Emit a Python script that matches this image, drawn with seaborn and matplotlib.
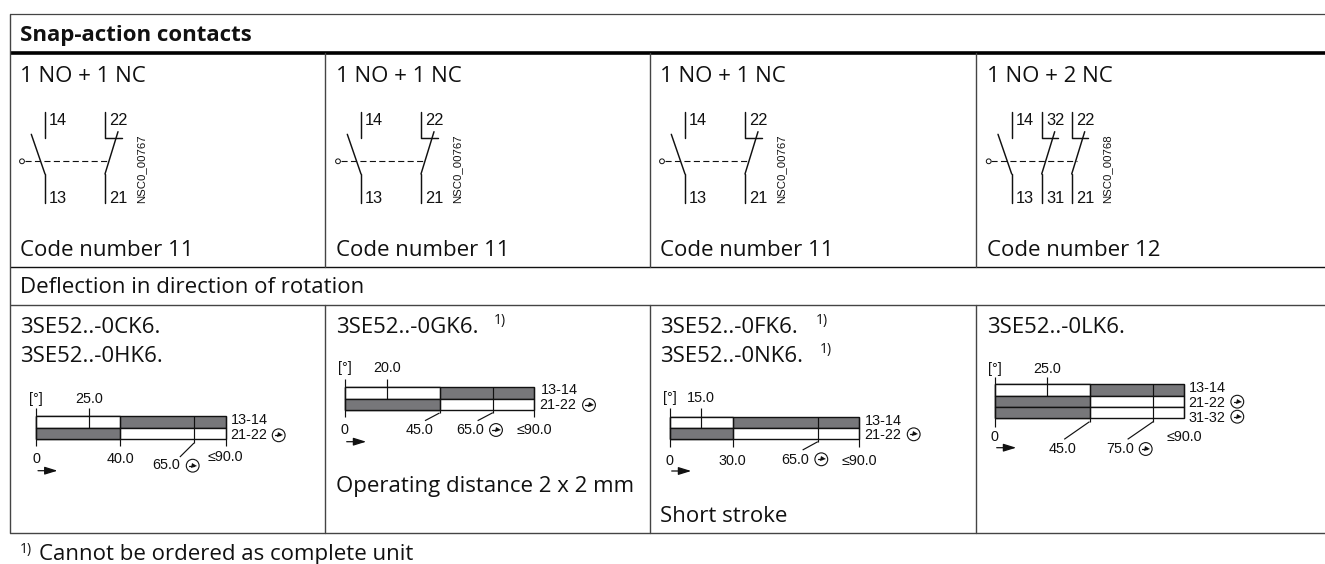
# Snap-action contact table: switching diagrams drawn as seaborn bars
import pandas as pd
import seaborn as sns
import matplotlib.pyplot as plt
from matplotlib.patches import Circle
from matplotlib.transforms import blended_transform_factory

sns.set_theme(style="white")
plt.rcParams['font.family'] = ['Open Sans', 'DejaVu Sans']
plt.rcParams['axes.unicode_minus'] = False

W, H = 1325, 564
BODY = 'Open Sans'
ARIAL = 'Liberation Sans'
INK = '#111111'
GRID = '#444444'
GREY = '#77777a'

# ---- data ----
header = "Snap-action contacts"
contact_titles = ["1 NO + 1 NC", "1 NO + 1 NC", "1 NO + 1 NC", "1 NO + 2 NC"]
code_numbers = ["Code number 11", "Code number 11", "Code number 11", "Code number 12"]
deflection = "Deflection in direction of rotation"
footnote = "Cannot be ordered as complete unit"
drawing_ids = ["NSC0_00767", "NSC0_00767", "NSC0_00767", "NSC0_00768"]
order_numbers = [["3SE52..-0CK6.", "3SE52..-0HK6."], ["3SE52..-0GK6."],
                 ["3SE52..-0FK6.", "3SE52..-0NK6."], ["3SE52..-0LK6."]]
order_marked = [[False, False], [True], [True, True], [False]]
notes = [None, "Operating distance 2 x 2 mm", "Short stroke", None]

contacts = [["13-14", "21-22"], ["13-14", "21-22"], ["13-14", "21-22"], ["13-14", "21-22", "31-32"]]
first_angle = [25.0, 20.0, 15.0, 25.0]      # top label, NO contact pre-travel mark
switch_angle = [40.0, 45.0, 30.0, 45.0]     # where shading changes
positive_label = [65.0, 65.0, 65.0, 75.0]   # printed positive opening angle
positive_drawn = [75.0, 70.3, 70.3, 75.2]   # where its mark really sits on the bar
max_angle = 90.0

# ---- layout, pixels ----
col_x = [9.5, 325, 650, 976]
text_x = [20, 336, 660, 987]
schem_x = [45, 361, 685, 1011.7]
schem_gap = [60, 60, 60, 30]
id_x = [141.3, 457.3, 781.3, 1107.7]
code_y = 255.7
order_y = [333, 361.7]
sup_x = [[], [494], [816, 820], []]
note_y = [0, 491.7, 521.7, 0]

dia_x0 = [36, 344.7, 669.7, 994.7]
dia_top = [416.3, 387.3, 416.7, 384.3]
row_h = 11.3
dia_w = 189.6
tick_top = [408, 379, 408.3, 376.7]
tick_bot = [446, 416.7, 446.7, 426.7]
top_base = [403, 372.3, 401.7, 373.3]
low_base = [463, 434, 465, 440.7]
switch_base = [463, 434, 465, 453.3]
switch_lab_x = [120, 420, 732, 1062.3]
switch_stop = [446, 413, 446.7, 421.7]
switch_tail = [None, (38.1, 420.7), None, (33.0, 439.3)]
pos_stop = [443, 412.7, 441.7, 421.7]
pos_tail = [(68.3, 457), (63.1, 420.7), (63.1, 450), (63.1, 439.3)]
pos_left = [152.7, 456.7, 781.7, 1106]
pos_base = [469, 434, 464, 453.3]
pos_circle = [(192.7, 465.7), (496, 430), (821.3, 459.3), (1145.7, 449)]
arrow_x = [38, 346.7, 671.7, 996.7]
arrow_y = [470.7, 441.7, 471, 447.7]
lab_left = [[230.7, 230], [540.7, 539.7], [865.3, 864], [1189, 1188.3, 1188.3]]
lab_base = [[424.3, 439.3], [394.3, 409.3], [425, 439.3], [391.7, 406.7, 421.7]]
circle_at = [[None, (278.7, 435.3)], [None, (589, 405)], [None, (913.7, 434.3)],
             [None, (1237.3, 401.7), (1237.3, 416.7)]]


def txt(ax, x, y, s, size=16, family=BODY, **kw):
    kw.setdefault('va', 'baseline')
    kw.setdefault('color', INK)
    ax.text(x, y, s, fontsize=size, family=family, **kw)


def opened(ax, cx, cy):
    """Ringed arrow symbol for positive opening"""
    ax.add_patch(Circle((cx, cy), 6.4, fill=False, ec=INK, lw=0.8))
    ax.plot([cx - 3.6, cx + 1], [cy, cy], color=INK, lw=0.9)
    ax.plot([cx + 1.5], [cy], marker='>', ms=3.6, color=INK, mew=0)


def draw_schematic(ax, x0, gap, labels, drawing_id, id_pos):
    n = len(labels)
    top, mid, knee, bottom, link = 111.7, 138, 174, 202.5, 161.3
    ends = x0 + gap * (n - 1) + 5
    ax.plot([x0 - 20.5, ends], [link, link], color=INK, lw=0.8, dashes=(5.5, 3))
    ax.add_patch(Circle((x0 - 23, link), 2.4, fc='white', ec=INK, lw=0.7, zorder=3))
    for i, (up, low) in enumerate(labels):
        x = x0 + gap * i
        ax.plot([x, x], [knee, bottom], color=INK, lw=1.05)
        if i == 0:
            ax.plot([x, x], [top, mid], color=INK, lw=1.05)
            ax.plot([x - 13.7, x], [134.3, knee], color=INK, lw=1.05)
        else:
            ax.plot([x, x, x + 16.7], [top, mid, mid], color=INK, lw=1.05)
            ax.plot([x, x + 13], [knee, 131.7], color=INK, lw=1.05)
        pad = 4.2
        txt(ax, x + pad, 125, up, 11.8, ARIAL)
        txt(ax, x + pad, 202.7, low, 11.8, ARIAL)
    txt(ax, id_pos, 203, drawing_id, 8.2, ARIAL, rotation=90, ha='center', va='bottom')


def draw_timing(fig, ax, k):
    names = contacts[k]
    n = len(names)
    top = dia_top[k]
    bar_ax = fig.add_axes([dia_x0[k] / W, 1 - (top + row_h * n) / H, dia_w / W, row_h * n / H])
    bar_ax.set_zorder(1)

    # full travel first, the part before the switching point on top of it
    full = pd.DataFrame({'contact': names, 'deg': [max_angle] * n})
    early = pd.DataFrame({'contact': names, 'deg': [switch_angle[k]] * n})
    full_cols = {c: (GREY if c == '13-14' else 'white') for c in names}
    early_cols = {c: ('white' if c == '13-14' else GREY) for c in names}
    for frame, cols in ((full, full_cols), (early, early_cols)):
        sns.barplot(data=frame, x='deg', y='contact', hue='contact', palette=cols, order=names,
                    saturation=1, width=1.0, edgecolor=INK, linewidth=1.0, legend=False,
                    errorbar=None, ax=bar_ax)
    for patch in bar_ax.patches:
        patch.set_clip_on(False)
    bar_ax.set_xlim(0, max_angle)
    bar_ax.set_ylim(n - 0.5, -0.5)
    bar_ax.axis('off')

    # marks: x in degrees through the bar axes, y in table pixels
    blend = blended_transform_factory(bar_ax.transData, ax.transData)

    def mark(xs, ys):
        ax.plot(xs, ys, color=INK, lw=0.85, transform=blend, solid_capstyle='butt')

    mark([0, 0], [tick_top[k], tick_bot[k]])
    mark([first_angle[k]] * 2, [tick_top[k], top + row_h])
    mark([max_angle] * 2, [top, tick_bot[k] if k < 3 else top + row_h * n])

    stop = switch_stop[k]
    mark([switch_angle[k]] * 2, [top, stop])
    if switch_tail[k]:
        mark([switch_angle[k], switch_tail[k][0]], [stop, switch_tail[k][1]])
    stop = pos_stop[k]
    mark([positive_drawn[k]] * 2, [top, stop])
    mark([positive_drawn[k], pos_tail[k][0]], [stop, pos_tail[k][1]])

    s = 10.4
    txt(ax, dia_x0[k], top_base[k], "[°]", s, ARIAL, ha='center')
    txt(ax, first_angle[k], top_base[k], f"{first_angle[k]:.1f}", s, ARIAL, ha='center', transform=blend)
    txt(ax, dia_x0[k], low_base[k], "0", s, ARIAL, ha='center')
    txt(ax, switch_lab_x[k], switch_base[k], f"{switch_angle[k]:.1f}", s, ARIAL, ha='center')
    txt(ax, pos_left[k], pos_base[k], f"{positive_label[k]:.1f}", s, ARIAL)
    opened(ax, *pos_circle[k])
    txt(ax, dia_x0[k] + dia_w, low_base[k] - (2.3 if k == 0 else 0), f"≤{max_angle:.1f}", s, ARIAL, ha='center')
    ax.annotate('', xy=(arrow_x[k] + 19.5, arrow_y[k]), xytext=(arrow_x[k], arrow_y[k]),
                arrowprops=dict(arrowstyle='-|>,head_length=0.55,head_width=0.17', color=INK,
                                lw=0.9, shrinkA=0, shrinkB=0, mutation_scale=14))
    for name, lx, ly, circ in zip(names, lab_left[k], lab_base[k], circle_at[k]):
        txt(ax, lx, ly, name, s, ARIAL)
        if circ:
            opened(ax, *circ)


def main():
    fig = plt.figure(figsize=(W / 100, H / 100), dpi=100, facecolor='white')
    ax = fig.add_axes([0, 0, 1, 1])
    ax.set_xlim(0, W)
    ax.set_ylim(H, 0)
    ax.axis('off')
    ax.set_zorder(2)

    # table rules
    for y, lw, c in ((13.5, 0.9, GRID), (53, 2.6, 'black'), (266.8, 1.0, INK), (305, 1.0, GRID), (533.3, 1.0, GRID)):
        ax.plot([9.5, W], [y, y], color=c, lw=lw, solid_capstyle='butt')
    ax.plot([9.5, 9.5], [13.5, 533.3], color=GRID, lw=1.0)
    for x in col_x[1:]:
        ax.plot([x, x], [53, 266.8], color=GRID, lw=1.0)
        ax.plot([x, x], [305, 533.3], color=GRID, lw=1.0)

    txt(ax, 20, 40.7, header, weight='bold')
    txt(ax, 20, 293, deflection)
    txt(ax, 20, 553.3, "1)", 10)
    txt(ax, 39, 560, footnote)

    for k in range(4):
        txt(ax, text_x[k], 82, contact_titles[k])
        txt(ax, text_x[k], code_y, code_numbers[k])
        terms = [("14", "13"), ("22", "21")] if k < 3 else [("14", "13"), ("32", "31"), ("22", "21")]
        draw_schematic(ax, schem_x[k], schem_gap[k], terms, drawing_ids[k], id_x[k])
        for j, (num, marked) in enumerate(zip(order_numbers[k], order_marked[k])):
            txt(ax, text_x[k], order_y[j], num)
            if marked:
                txt(ax, sup_x[k][j], order_y[j] - 8.7, "1)", 10)
        if notes[k]:
            txt(ax, text_x[k], note_y[k], notes[k])
        draw_timing(fig, ax, k)

    fig.savefig("out.png", dpi=100, facecolor='white')
    plt.close(fig)


if __name__ == "__main__":
    main()
